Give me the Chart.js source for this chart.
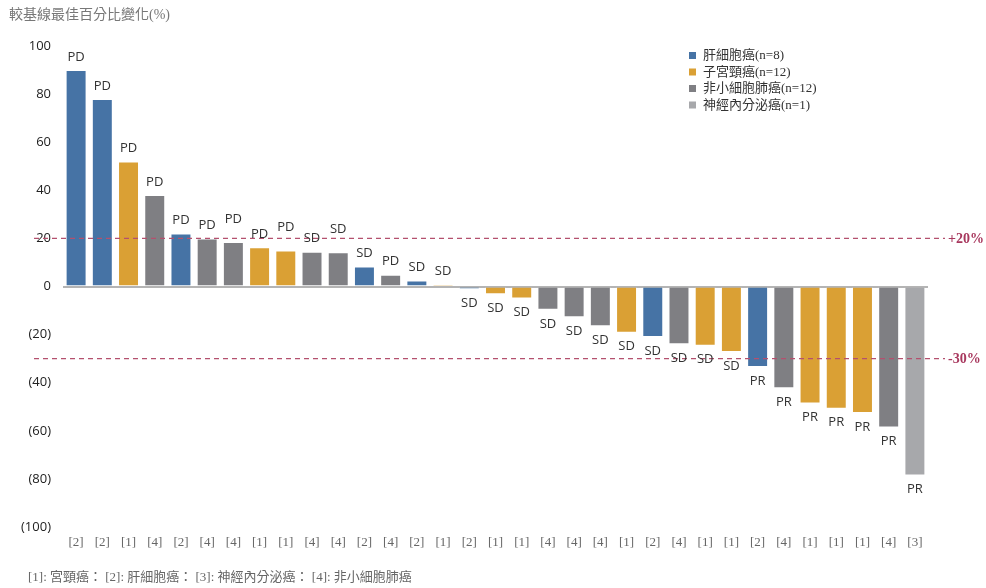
<!DOCTYPE html>
<html>
<head>
<meta charset="utf-8">
<script src="https://cdn.jsdelivr.net/npm/chart.js"></script>
<style>
  html, body { margin: 0; padding: 0; background: #fff; }
  #wrap { width: 986px; height: 588px; position: relative; }
</style>
</head>
<body>
<div id="wrap"><canvas id="waterfall" width="986" height="588"></canvas></div>
<script>
// 每位病人的癌別代碼（x 軸標籤）
const categories = ['[2]','[2]','[1]','[4]','[2]','[4]','[4]','[1]','[1]','[4]','[4]','[2]','[4]','[2]','[1]','[2]','[1]',
  '[1]','[4]','[4]','[4]','[1]','[2]','[4]','[1]','[1]','[2]','[4]','[1]','[1]','[1]','[4]','[3]'];
// 較基線最佳百分比變化
const values = [90, 78, 52, 38, 22, 20, 18.5, 16.3, 15, 14.5, 14.2, 8.3, 4.9, 2.5, 0.8, -1.1, -3.2,
  -5, -9.7, -12.8, -16.5, -19.2, -21, -24, -24.6, -27.2, -33.5, -42.3, -48.6, -50.8, -52.6, -58.6, -78.6];
// 療效評估
const responses = ['PD','PD','PD','PD','PD','PD','PD','PD','PD','SD','SD','SD','PD','SD','SD','SD','SD',
  'SD','SD','SD','SD','SD','SD','SD','SD','SD','PR','PR','PR','PR','PR','PR','PR'];
// 圖例順序
const groupCodes = ['[2]', '[1]', '[4]', '[3]'];
const groupNames = ['肝細胞癌', '子宮頸癌', '非小細胞肺癌', '神經內分泌癌'];
const groupColors = ['#4673a5', '#daa034', '#7f7f83', '#a7a8ab'];
const yTicks = [100, 80, 60, 40, 20, 0, -20, -40, -60, -80, -100];
const refLines = [20, -30];
const refLabels = ['+20%', '-30%'];

const datasets = groupCodes.map((code, g) => {
  const n = categories.filter(c => c === code).length;
  return {
    label: groupNames[g] + '(n=' + n + ')',
    data: values.map((v, i) => categories[i] === code ? v : null),
    backgroundColor: groupColors[g],
    borderColor: 'rgba(255,255,255,0.5)',
    borderWidth: 1,
    grouped: false,
    barPercentage: 0.8,
    categoryPercentage: 1.0,
    skipNull: true
  };
});

// PD / SD / PR 標籤
const responseLabels = {
  id: 'responseLabels',
  afterDatasetsDraw(chart) {
    const ctx = chart.ctx;
    ctx.save();
    ctx.font = '13px "Open Sans", sans-serif';
    ctx.fillStyle = '#333';
    ctx.textAlign = 'center';
    ctx.textBaseline = 'middle';
    chart.data.datasets.forEach((ds, d) => {
      chart.getDatasetMeta(d).data.forEach((bar, i) => {
        const v = ds.data[i];
        if (v === null) return;
        const lift = [6, 8, 10].includes(i) ? 10 : 0;
        const y = v >= 0 ? bar.y - 13 - lift : bar.y + 14;
        ctx.fillText(responses[i], bar.x, y);
      });
    });
    ctx.restore();
  }
};

// ±門檻虛線
const thresholdLines = {
  id: 'thresholdLines',
  afterDatasetsDraw(chart) {
    const ctx = chart.ctx;
    const ys = chart.scales.y;
    ctx.save();
    refLines.forEach((v, k) => {
      const y = ys.getPixelForValue(v);
      ctx.strokeStyle = '#b4506e';
      ctx.lineWidth = 1.2;
      ctx.setLineDash([5, 4]);
      ctx.beginPath();
      ctx.moveTo(34, y);
      ctx.lineTo(945, y);
      ctx.stroke();
      ctx.setLineDash([]);
      ctx.fillStyle = '#a8385e';
      ctx.font = 'bold 14px "Liberation Serif", serif';
      ctx.textAlign = 'left';
      ctx.textBaseline = 'middle';
      ctx.fillText(refLabels[k], 948, y + 1);
    });
    ctx.restore();
  }
};

// 標題、圖例、註腳
const decorations = {
  id: 'decorations',
  afterDraw(chart) {
    const ctx = chart.ctx;
    ctx.save();
    ctx.textBaseline = 'middle';
    ctx.textAlign = 'left';
    ctx.fillStyle = '#777';
    ctx.font = '14px "Liberation Serif", "Noto Sans CJK TC", serif';
    ctx.fillText('較基線最佳百分比變化(%)', 9, 15);

    ctx.font = '13px "Liberation Serif", "Noto Sans CJK TC", serif';
    chart.data.datasets.forEach((ds, d) => {
      const y = 56 + d * 16.5;
      ctx.fillStyle = ds.backgroundColor;
      ctx.fillRect(689, y - 4, 7, 7);
      ctx.fillStyle = '#333';
      ctx.fillText(ds.label, 703, y);
    });

    ctx.fillStyle = '#666';
    ctx.font = '13px "Liberation Serif", "Noto Sans CJK TC", serif';
    ctx.fillText('[1]: 宮頸癌： [2]: 肝細胞癌： [3]: 神經內分泌癌： [4]: 非小細胞肺癌', 28, 578);
    ctx.restore();
  }
};

window.addEventListener('DOMContentLoaded', () => {
  const ctx = document.getElementById('waterfall').getContext('2d');
  new Chart(ctx, {
    type: 'bar',
    data: { labels: categories, datasets: datasets },
    options: {
      responsive: false,
      animation: false,
      layout: { padding: { top: 46, right: 58, bottom: 31, left: 0 } },
      plugins: { legend: { display: false }, tooltip: { enabled: false } },
      scales: {
        x: {
          grid: { display: false },
          border: { display: false },
          ticks: {
            color: '#666',
            padding: 0,
            maxRotation: 0,
            autoSkip: false,
            font: { family: '"Liberation Serif", serif', size: 13 }
          },
          afterFit(s) { s.height = 30; }
        },
        y: {
          min: -100,
          max: 100,
          afterBuildTicks(s) { s.ticks = yTicks.map(v => ({ value: v })); },
          afterFit(s) { s.width = 63; },
          border: { display: false },
          grid: {
            drawTicks: false,
            color: c => c.tick && c.tick.value === 0 ? '#b4b4b4' : 'rgba(0,0,0,0)',
            lineWidth: c => c.tick && c.tick.value === 0 ? 2 : 0
          },
          ticks: {
            color: '#222',
            padding: 12,
            font: { family: '"Open Sans", sans-serif', size: 13 },
            callback: v => v < 0 ? '(' + Math.abs(v) + ')' : String(v)
          }
        }
      }
    },
    plugins: [thresholdLines, responseLabels, decorations]
  });
});
</script>
</body>
</html>
